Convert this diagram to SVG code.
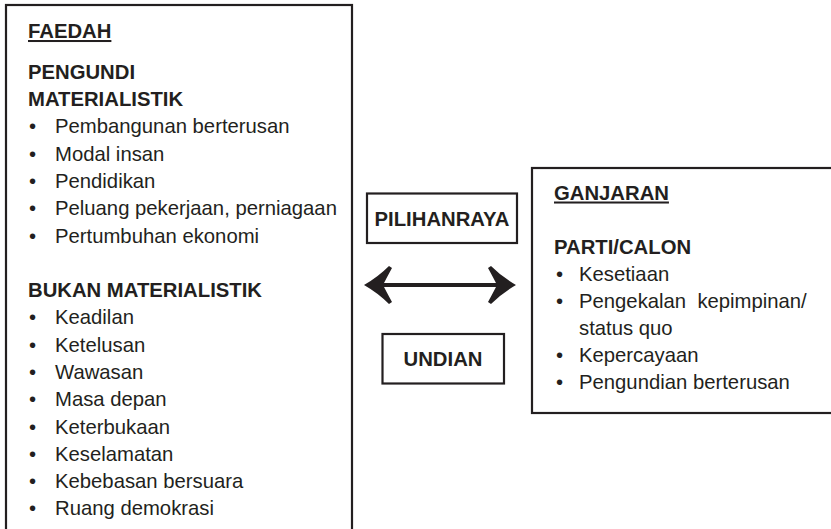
<svg xmlns="http://www.w3.org/2000/svg" width="831" height="529" viewBox="0 0 831 529">
<style>
.box{fill:#fff;stroke:#231f20;stroke-width:2.2}
text{font-family:"Liberation Sans",Arial,sans-serif;font-size:20.3px;fill:#231f20}
.b{font-weight:bold}
.u{text-decoration:underline}
.c{text-anchor:middle}
</style>
<rect width="831" height="529" fill="#fff"/>
<g id="faedah">
<rect class="box" x="6" y="5" width="346" height="540"/>
<text class="b u" x="28" y="38">FAEDAH</text>
<text class="b" x="28" y="79">PENGUNDI</text>
<text class="b" x="28" y="106">MATERIALISTIK</text>
<text x="29" y="133.3">•</text><text x="55" y="133.3">Pembangunan berterusan</text>
<text x="29" y="160.6">•</text><text x="55" y="160.6">Modal insan</text>
<text x="29" y="187.9">•</text><text x="55" y="187.9">Pendidikan</text>
<text x="29" y="215.2">•</text><text x="55" y="215.2">Peluang pekerjaan, perniagaan</text>
<text x="29" y="242.5">•</text><text x="55" y="242.5">Pertumbuhan ekonomi</text>
<text class="b" x="28" y="297">BUKAN MATERIALISTIK</text>
<text x="29" y="324.3">•</text><text x="55" y="324.3">Keadilan</text>
<text x="29" y="351.6">•</text><text x="55" y="351.6">Ketelusan</text>
<text x="29" y="378.9">•</text><text x="55" y="378.9">Wawasan</text>
<text x="29" y="406.2">•</text><text x="55" y="406.2">Masa depan</text>
<text x="29" y="433.5">•</text><text x="55" y="433.5">Keterbukaan</text>
<text x="29" y="460.8">•</text><text x="55" y="460.8">Keselamatan</text>
<text x="29" y="488.1">•</text><text x="55" y="488.1">Kebebasan bersuara</text>
<text x="29" y="515.4">•</text><text x="55" y="515.4">Ruang demokrasi</text>
</g>
<g id="ganjaran">
<rect class="box" x="532" y="168" width="310" height="245"/>
<text class="b u" x="554" y="199.5">GANJARAN</text>
<text class="b" x="554" y="254">PARTI/CALON</text>
<text x="556" y="281">•</text><text x="579" y="281">Kesetiaan</text>
<text x="556" y="308">•</text><text x="579" y="308" xml:space="preserve">Pengekalan  kepimpinan/</text>
<text x="579" y="334.5">status quo</text>
<text x="556" y="362">•</text><text x="579" y="362">Kepercayaan</text>
<text x="556" y="389.3">•</text><text x="579" y="389.3">Pengundian berterusan</text>
</g>
<g id="pilihanraya">
<rect class="box" x="367" y="193.5" width="150" height="49.5"/>
<text class="b c" x="442" y="225.5">PILIHANRAYA</text>
</g>
<g id="undian">
<rect class="box" x="382.5" y="334" width="121.5" height="49.5"/>
<text class="b c" x="443" y="366">UNDIAN</text>
</g>
<g id="connectors">
<line x1="378" y1="285" x2="502" y2="285" stroke="#231f20" stroke-width="4.2"/>
<path d="M364,285 Q378,277 389,266 L392,268 Q386,279 383,285 Q386,291 392,302 L389,304 Q378,293 364,285 Z" fill="#231f20"/>
<path d="M516,285 Q502,277 491,266 L488,268 Q494,279 497,285 Q494,291 488,302 L491,304 Q502,293 516,285 Z" fill="#231f20"/>
</g>
</svg>
